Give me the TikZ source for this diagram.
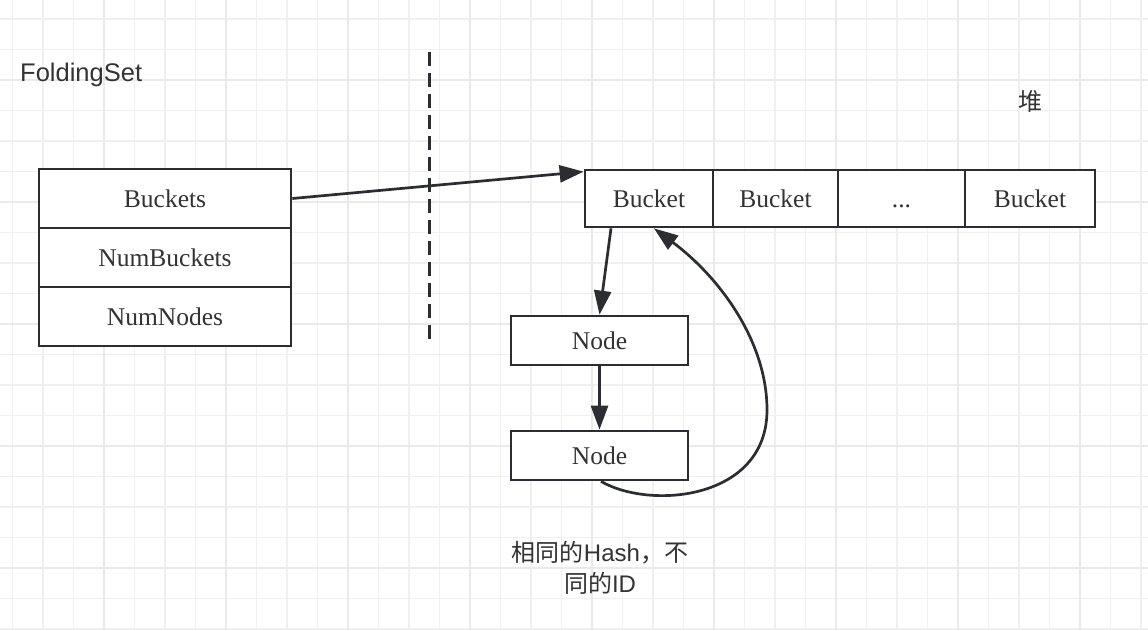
\documentclass[tikz,border=0pt]{standalone}
\usepackage{fontspec}
\setmainfont{Liberation Serif}
\newfontfamily\sansf{Liberation Sans}
\newfontfamily\cjk{Noto Sans CJK SC}
\usetikzlibrary{arrows.meta,calc}
\definecolor{ink}{HTML}{2B2D30}
\definecolor{txt}{HTML}{333333}
\definecolor{gridminor}{HTML}{F0F0F0}
\definecolor{gridmajor}{HTML}{EAEAEA}
\tikzset{
  gminor/.style={draw=gridminor, line width=1.8pt},
  gmajor/.style={draw=gridmajor, line width=1.8pt},
  box/.style={draw=ink, line width=2.7pt, fill=white, text=txt, inner sep=0pt,
    text height=17.5pt, text depth=0pt, font=\fontsize{25.5}{30}\selectfont},
  arr/.style={draw=ink, line width=2.7pt, -{Triangle[length=24pt,width=17pt]}},
  plain/.style={text=txt, inner sep=0pt},
}
\begin{document}
\begin{tikzpicture}[x=1pt,y=-1pt]
\useasboundingbox (0,0) rectangle (1148,630);
\fill[white] (0,0) rectangle (1148,630);
% grid
\foreach \i in {0,...,37} {\draw[gminor] ({12.5+30.5*\i},0) -- ({12.5+30.5*\i},630);}
\foreach \i in {0,...,20} {\draw[gminor] (0,{19+30.5*\i}) -- (1148,{19+30.5*\i});}
\foreach \i in {0,...,9} {\draw[gmajor] ({-18+122*\i},0) -- ({-18+122*\i},630);}
\foreach \i in {0,...,5} {\draw[gmajor] (0,{-42+122*\i}) -- (1148,{-42+122*\i});}
% labels
\node[plain, anchor=base west, font=\sansf\fontsize{25.5}{30}\selectfont] (title) at (20,81) {FoldingSet};
\node[plain, font=\cjk\fontsize{24}{30}\selectfont] (heap) at (1030,101) {堆};
\node[plain, font=\cjk\fontsize{24}{31}\selectfont, align=center] (note) at (600,568) {相同的{\sansf Hash}，不\\同的{\sansf ID}};
% left structure
\node[box, minimum width=252pt, minimum height=59pt] (buckets) at (165,198.5) {Buckets};
\node[box, minimum width=252pt, minimum height=59pt] (numb) at (165,257.5) {NumBuckets};
\node[box, minimum width=252pt, minimum height=59pt] (numn) at (165,316.5) {NumNodes};
% divider
\coordinate (d1) at (429,52);
\coordinate (d2) at (429,340);
\draw[draw=ink, line width=3pt, dash pattern=on 14pt off 7pt] (d1) -- (d2);
% buckets array
\node[box, minimum width=128pt, minimum height=57pt] (b1) at (649,198.5) {Bucket};
\node[box, minimum width=125pt, minimum height=57pt] (b2) at (775.5,198.5) {Bucket};
\node[box, minimum width=127pt, minimum height=57pt] (b3) at (901.5,198.5) {...};
\node[box, minimum width=130pt, minimum height=57pt] (b4) at (1030,198.5) {Bucket};
% nodes
\node[box, minimum width=177pt, minimum height=49pt] (n1) at (599.5,340.5) {Node};
\node[box, minimum width=177pt, minimum height=49pt] (n2) at (599.5,455.5) {Node};
% connectors
\draw[arr] (buckets.east) -- ($(b1.north west)+(0,3)$);
\draw[arr] ($(b1.south)+(-38,0)$) -- (n1.north);
\draw[arr] (n1.south) -- (n2.north);
\coordinate (c1) at (767,410);
\draw[arr] ($(n2.south)+(1.5,0)$) .. controls (650,510) and (767,500) .. (c1)
   .. controls (767,340) and (718,276) .. ($(b1.south)+(5,0)$);
\end{tikzpicture}
\end{document}
